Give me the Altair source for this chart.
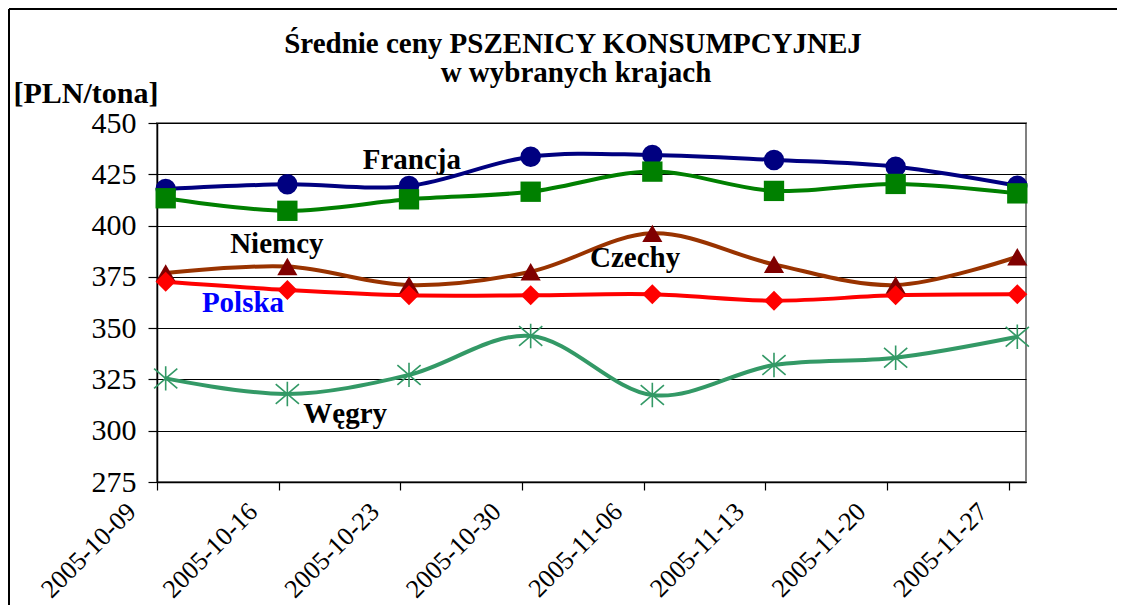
import altair as alt
import pandas as pd

# ---- data ----
dates = ["2005-10-09", "2005-10-16", "2005-10-23", "2005-10-30",
         "2005-11-06", "2005-11-13", "2005-11-20", "2005-11-27"]
francja = [417.8, 420.1, 419.3, 433.6, 434.4, 432.0, 428.7, 419.4]
niemcy = [413.3, 407.2, 412.8, 416.5, 426.3, 416.9, 420.3, 415.7]
czechy = [376.9, 380.0, 371.0, 377.5, 396.2, 381.1, 371.0, 384.8]
polska = [372.6, 368.6, 366.0, 366.0, 366.5, 363.4, 366.0, 366.5]
wegry = [325.5, 317.9, 327.2, 346.2, 317.4, 332.0, 335.6, 345.8]

series_names = ["Francja", "Niemcy", "Czechy", "Polska", "Węgry"]
series_values = [francja, niemcy, czechy, polska, wegry]
line_colors = ["#000080", "#008000", "#993300", "#FF0000", "#339966"]
marker_colors = ["#000080", "#008000", "#800000", "#FF0000"]
marker_shapes = ["circle", "square", "triangle-up", "diamond"]
marker_sizes = [420, 400, 460, 480]

label_texts = ["Francja", "Niemcy", "Czechy", "Polska", "Węgry"]
label_times = ["2005-10-20T20:00:00", "2005-10-13T05:00:00", "2005-11-02T22:00:00",
               "2005-10-11T14:00:00", "2005-10-17T10:00:00"]
label_values = [427.6, 386.6, 379.8, 357.9, 303.8]
label_colors = ["#000000", "#000000", "#000000", "#0000FF", "#000000"]

title_lines = ["Średnie ceny PSZENICY KONSUMPCYJNEJ", "w wybranych krajach"]
y_title = "[PLN/tona]"
y_ticks = [275, 300, 325, 350, 375, 400, 425, 450]

# ---- build tables ----
rows = []
for name, vals in zip(series_names, series_values):
    for d, v in zip(dates, vals):
        rows.append({"series": name, "date": d, "v": v})
df = pd.DataFrame(rows)
# Excel date axis "between tick marks": points sit in the middle of each day
df["t"] = pd.to_datetime(df["date"]) + pd.Timedelta(hours=12)

labels = pd.DataFrame({"label": label_texts, "t": pd.to_datetime(label_times),
                       "v": label_values, "color": label_colors})

FONT = "Liberation Serif"


def dt(s):
    y, m, d = [int(p) for p in s.split("-")]
    return alt.DateTime(year=y, month=m, date=d)


x_enc = alt.X(
    "t:T",
    scale=alt.Scale(domain=[dt("2005-10-09"), dt("2005-11-28")]),
    axis=alt.Axis(
        values=[dt(d) for d in dates], format="%Y-%m-%d", formatType="time",
        labelAngle=315, labelAlign="right", labelBaseline="top",
        labelOffset=-35, labelPadding=8, tickSize=8, labelFlush=False,
        labelOverlap=False, labelFont=FONT, labelFontSize=26,
        labelColor="black", grid=False, domainColor="black", domainWidth=1.5,
        tickColor="black", tickWidth=1.2, title=None,
    ),
)
y_enc = alt.Y(
    "v:Q",
    scale=alt.Scale(domain=[275, 450], nice=False, zero=False),
    axis=alt.Axis(
        values=y_ticks, grid=True, gridColor="black", gridWidth=1,
        tickSize=9, tickColor="black", tickWidth=1.2, labelPadding=12,
        labelFont=FONT, labelFontSize=30, labelColor="black",
        domainColor="black", domainWidth=1.5,
        title=y_title, titleAngle=0, titleX=-144, titleY=-21,
        titleAlign="left", titleBaseline="alphabetic", titleFont=FONT,
        titleFontSize=30, titleFontWeight="bold", titleColor="black",
    ),
)

base = alt.Chart(df)

lines = base.mark_line(interpolate="cardinal", strokeWidth=4).encode(
    x=x_enc, y=y_enc,
    color=alt.Color("series:N", scale=alt.Scale(domain=series_names, range=line_colors), legend=None),
    detail="series:N",
)

filled_names = series_names[:4]
points = base.transform_filter(
    alt.FieldOneOfPredicate(field="series", oneOf=filled_names)
).mark_point(filled=True, opacity=1).encode(
    x="t:T", y="v:Q",
    fill=alt.Fill("series:N", scale=alt.Scale(domain=filled_names, range=marker_colors), legend=None),
    shape=alt.Shape("series:N", scale=alt.Scale(domain=filled_names, range=marker_shapes), legend=None),
    size=alt.Size("series:N", scale=alt.Scale(domain=filled_names, range=marker_sizes), legend=None),
)

stars = base.transform_filter(
    alt.FieldEqualPredicate(field="series", equal="Węgry")
).mark_point(
    shape="M-1,-0.85L1,0.85M-1,0.85L1,-0.85M0,-1.05L0,1.05",
    filled=False, size=540, strokeWidth=1.6, color="#339966", opacity=1,
).encode(x="t:T", y="v:Q")

texts = alt.Chart(labels).mark_text(
    font=FONT, fontSize=29, fontWeight="bold", align="left", baseline="alphabetic"
).encode(
    x="t:T", y="v:Q", text="label:N", color=alt.Color("color:N", scale=None),
)

one = pd.DataFrame({"a": [0]})
frame_top = alt.Chart(one).mark_rule(stroke="black", strokeWidth=2).encode(
    x=alt.value(-148), x2=alt.value(3000), y=alt.value(-114))
frame_left = alt.Chart(one).mark_rule(stroke="black", strokeWidth=2).encode(
    x=alt.value(-148), y=alt.value(-114), y2=alt.value(3000))

title1 = alt.Chart(pd.DataFrame({"text": [title_lines[0]]})).mark_text(
    font=FONT, fontSize=29, fontWeight="bold", align="center", baseline="alphabetic", color="black"
).encode(x=alt.value(416), y=alt.value(-70), text="text:N")
title2 = alt.Chart(pd.DataFrame({"text": [title_lines[1]]})).mark_text(
    font=FONT, fontSize=29, fontWeight="bold", align="center", baseline="alphabetic", color="black"
).encode(x=alt.value(419), y=alt.value(-41), text="text:N")

chart = alt.layer(frame_top, frame_left, title1, title2, lines, points, stars, texts).properties(
    width=869, height=359,
    autosize=alt.AutoSizeParams(type="none"),
    padding={"left": 149, "top": 115, "right": 91, "bottom": 123},
    background="white",
).configure_view(stroke="#808080", strokeWidth=2)

chart.save("out.html", embed_options={"renderer": "svg", "actions": False})
